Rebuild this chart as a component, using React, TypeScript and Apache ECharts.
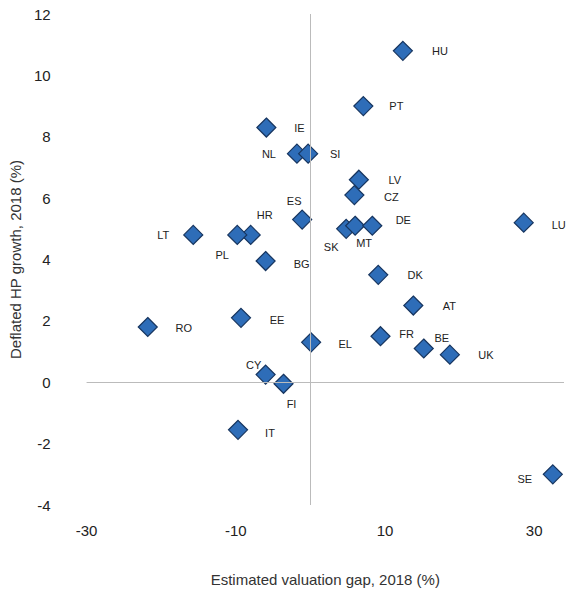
import { useEffect, useRef } from "react";
import * as echarts from "echarts";

const countries = ["HU","PT","IE","NL","SI","LV","CZ","ES","HR","LT","PL","SK","MT","DE","LU","BG","DK","AT","EE","RO","EL","FR","BE","UK","CY","FI","IT","SE"];
const valuationGap = [12.4,7.1,-5.9,-1.8,-0.3,6.5,5.9,-1.1,-8.0,-15.7,-9.8,4.8,6.0,8.3,28.6,-6.0,9.1,13.8,-9.3,-21.8,0.1,9.4,15.2,18.7,-6.0,-3.6,-9.7,32.5];
const hpGrowth = [10.8,9.0,8.3,7.45,7.45,6.6,6.1,5.3,4.8,4.8,4.8,5.0,5.1,5.1,5.2,3.95,3.5,2.5,2.1,1.8,1.3,1.5,1.1,0.9,0.25,-0.05,-1.55,-3.0];
const labelOffsets: [number, number][] = [[37,0],[33,0],[33,0],[-28,0],[27,0],[36,0],[37,2],[-8,-19],[14,-20],[-30,0],[-15,20],[-15,18],[9,17],[31,-6],[35,2],[36,3],[37,0],[36,0],[36,2],[36,1],[34,2],[26,-2],[18,-10],[36,0],[-12,-10],[8,20],[32,3],[-28,5]];

export default function App() {
  const ref = useRef<HTMLDivElement>(null);
  useEffect(() => {
    if (!ref.current) return;
    const chart = echarts.init(ref.current, null, { renderer: "svg" });
    const font = "Liberation Sans, Arial, sans-serif";
    chart.setOption({
      animation: false,
      textStyle: { fontFamily: font },
      grid: { left: 83, right: 2, top: 14, bottom: 91 },
      xAxis: {
        type: "value", min: -30, max: 34, interval: 20,
        name: "Estimated valuation gap, 2018 (%)", nameLocation: "middle", nameGap: 67,
        nameTextStyle: { fontSize: 15, color: "#333", fontFamily: font },
        axisLine: { show: false }, axisTick: { show: false }, splitLine: { show: false },
        axisLabel: { fontSize: 15, color: "#222", margin: 18, showMaxLabel: false },
      },
      yAxis: {
        type: "value", min: -4, max: 12, interval: 2,
        name: "Deflated HP growth, 2018 (%)", nameLocation: "middle", nameGap: 58,
        nameTextStyle: { fontSize: 15, color: "#333", fontFamily: font },
        axisLine: { show: false }, axisTick: { show: false }, splitLine: { show: false },
        axisLabel: { fontSize: 15, color: "#222", margin: 36 },
      },
      series: [{
        type: "scatter",
        symbol: "diamond",
        symbolSize: 19,
        itemStyle: { color: "#2E6DB8", borderColor: "#17355F", borderWidth: 1.2, opacity: 1 },
        label: { show: true, position: "inside", formatter: "{b}", fontSize: 11, color: "#222" },
        markLine: {
          silent: true, symbol: "none", label: { show: false },
          lineStyle: { color: "#bbb", type: "solid", width: 1 },
          data: [{ xAxis: 0 }, { yAxis: 0 }],
        },
        data: countries.map((c, i) => ({
          name: c,
          value: [valuationGap[i], hpGrowth[i]],
          label: { offset: labelOffsets[i] },
        })),
      }],
    });
    return () => chart.dispose();
  }, []);
  return <div ref={ref} style={{ position: "fixed", left: 0, top: 0, width: 566, height: 596, background: "#fff" }} />;
}
